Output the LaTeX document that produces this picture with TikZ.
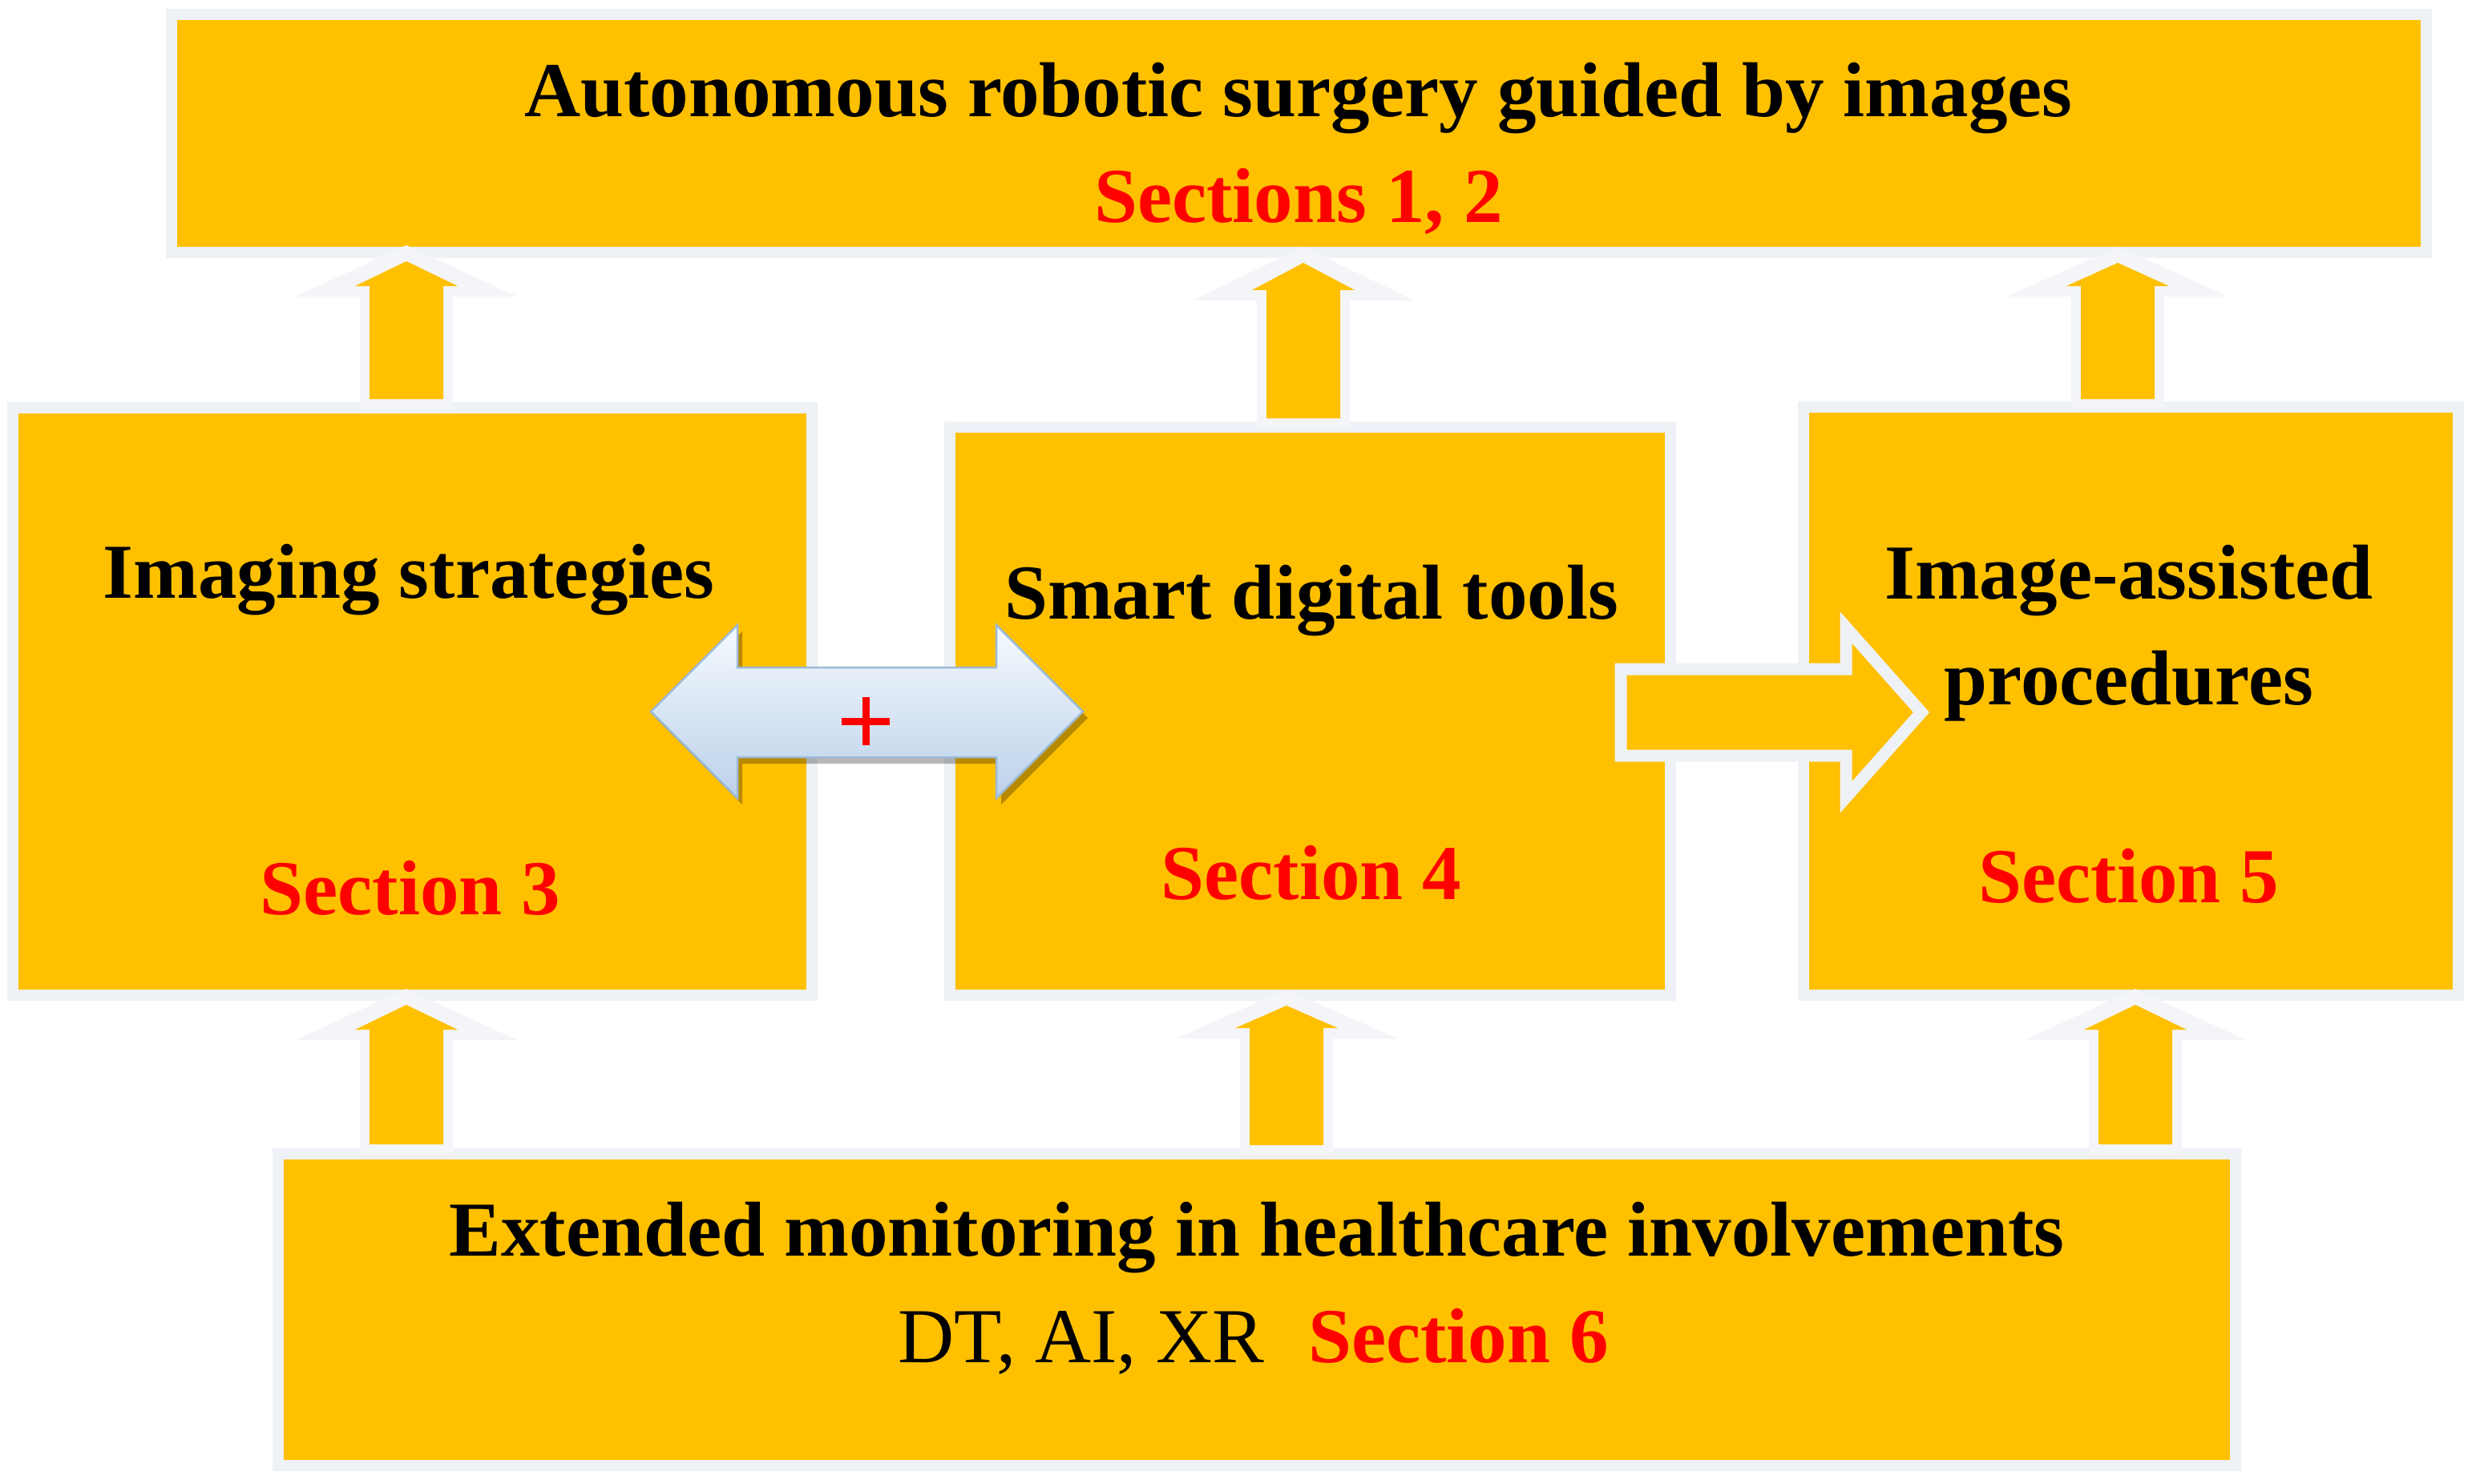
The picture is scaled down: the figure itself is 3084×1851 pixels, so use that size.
\documentclass[tikz,border=0pt]{standalone}
\usepackage{fontspec}
\setmainfont{Liberation Serif}
\usetikzlibrary{calc}
\definecolor{gold}{HTML}{FFC000}
\definecolor{rim}{HTML}{EEF1F5}
\definecolor{glow}{HTML}{F4F5F8}
\definecolor{secred}{HTML}{FF0000}
\definecolor{dbledge}{HTML}{9CBAD8}
\definecolor{dbltop}{HTML}{F6FAFE}
\definecolor{dblbot}{HTML}{BBD1EA}
\newcommand{\uparr}[4]{% x, tip y, head-base y, bottom y
  \fill[glow] (#1-58,#4+12) -- (#1-58,#3+13) -- (#1-138,#3+13) -- (#1,#2-20) -- (#1+138,#3+13) -- (#1+58,#3+13) -- (#1+58,#4+12) -- cycle;
  \fill[gold] (#1-46,#4) -- (#1-46,#3) -- (#1-64,#3) -- (#1,#2) -- (#1+64,#3) -- (#1+46,#3) -- (#1+46,#4) -- cycle;
}
\begin{document}
\begin{tikzpicture}[x=0.01cm,y=-0.01cm,
  box/.style={rectangle,fill=gold,draw=rim,line width=0.14cm,inner sep=0pt,outer sep=0pt},
  lbl/.style={anchor=base,inner sep=0pt,font=\fontsize{27.6}{33}\selectfont\bfseries},
  sec/.style={lbl,text=secred}]
\useasboundingbox (0,0) rectangle (3084,1851);
\fill[white] (0,0) rectangle (3084,1851);
% boxes
\node[box,minimum width=28.11cm,minimum height=2.97cm] (top) at (1620.5,166.5) {};
\node[box,minimum width=9.97cm,minimum height=7.33cm] (left) at (514.5,875.5) {};
\node[box,minimum width=8.99cm,minimum height=7.09cm] (mid) at (1634.5,887.5) {};
\node[box,minimum width=8.17cm,minimum height=7.34cm] (right) at (2658.5,875) {};
\node[box,minimum width=24.40cm,minimum height=3.89cm] (bottom) at (1568,1634.5) {};
% up arrows
\uparr{507}{326}{357}{498}
\uparr{1626}{328}{362}{522}
\uparr{2642}{328}{357}{498}
\uparr{507}{1254}{1285}{1428}
\uparr{1605}{1255}{1283}{1429}
\uparr{2664}{1254}{1285}{1428}
% double arrow (shadow then body)
\fill[black,opacity=0.28] (818,896) -- (926,788) -- (926,841) -- (1249,841) -- (1249,788) -- (1357,896) -- (1249,1004) -- (1249,953) -- (926,953) -- (926,1004) -- cycle;
\draw[dbledge,line width=0.025cm,top color=dbltop,bottom color=dblbot] (812,888) -- (920,780) -- (920,833) -- (1243,833) -- (1243,780) -- (1351,888) -- (1243,996) -- (1243,945) -- (920,945) -- (920,996) -- cycle;
\node[inner sep=0pt] (plus) at (1080,900) {};
\draw[secred,line width=0.09cm] ($(plus)+(-30,0)$) -- ($(plus)+(30,0)$) ($(plus)+(0,-30)$) -- ($(plus)+(0,30)$);
% right block arrow
\draw[fill=gold,draw=rim,line width=0.15cm,miter limit=10] (2022,835) -- (2303,835) -- (2303,783) -- (2397,889) -- (2303,995) -- (2303,943) -- (2022,943) -- cycle;
% texts
\node[lbl] (t1) at (1620,145) {Autonomous robotic surgery guided by images};
\node[sec] (t2) at (1620,277) {Sections 1, 2};
\node[lbl] (t3) at (510,746) {Imaging strategies};
\node[sec] (t4) at (512,1141) {Section 3};
\node[lbl] (t5) at (1636,772) {Smart digital tools};
\node[sec] (t6) at (1636,1122) {Section 4};
\node[lbl] (t7) at (2656,747) {Image-assisted};
\node[lbl] (t8) at (2656,879) {procedures};
\node[sec] (t9) at (2656,1126) {Section 5};
\node[lbl] (t10) at (1568,1567) {Extended monitoring in healthcare involvements};
\node[lbl] (t11) at (1564,1700) {\mdseries DT, AI, XR\hspace{0.55cm}\textcolor{secred}{\bfseries Section 6}};
\end{tikzpicture}
\end{document}
